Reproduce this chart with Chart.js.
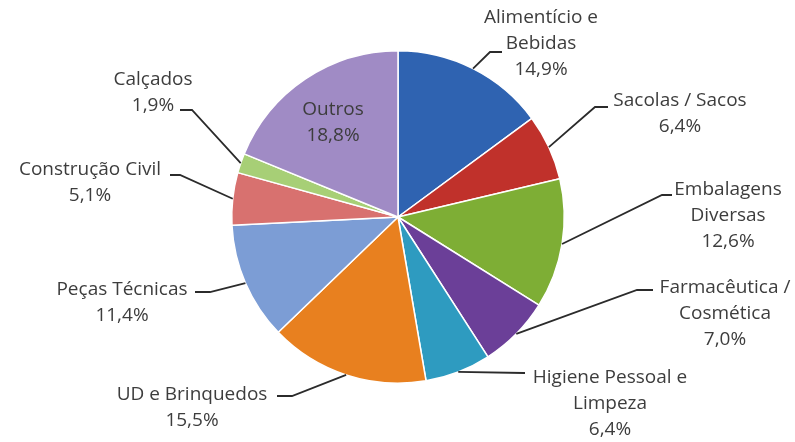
<!DOCTYPE html>
<html>
<head>
<meta charset="utf-8">
<script src="https://cdn.jsdelivr.net/npm/chart.js@4"></script>
<style>
  html, body { margin: 0; padding: 0; background: #fff; }
  #wrap { width: 795px; height: 442px; }
</style>
</head>
<body>
<div id="wrap"><canvas id="pie" width="795" height="442"></canvas></div>
<script>
// --- Dados ---
const categories = [
  ['Alimentício e', 'Bebidas'],
  ['Sacolas / Sacos'],
  ['Embalagens', 'Diversas'],
  ['Farmacêutica /', 'Cosmética'],
  ['Higiene Pessoal e', 'Limpeza'],
  ['UD e Brinquedos'],
  ['Peças Técnicas'],
  ['Construção Civil'],
  ['Calçados'],
  ['Outros']
];
const shares = [14.9, 6.4, 12.6, 7.0, 6.4, 15.5, 11.4, 5.1, 1.9, 18.8];
const colors = ['#2f63b1', '#c0312b', '#7eae35', '#6b3f98', '#2e9bc0',
                '#e8801f', '#7c9dd5', '#d8716f', '#a7cf76', '#a08bc5'];

// posição dos rótulos: centro do texto, y da 1a linha, cotovelo e fim da linha guia
const labelPos = [
  { x: 541, y: 18,  elbow: [490, 52],  end: [502, 52] },
  { x: 680, y: 101, elbow: [595, 107], end: [608, 107] },
  { x: 728, y: 190, elbow: [662, 195], end: [672, 195] },
  { x: 725, y: 288, elbow: [637, 290], end: [653, 290] },
  { x: 610, y: 378, elbow: [524, 373], end: [525, 373] },
  { x: 192, y: 395, elbow: [292, 396], end: [277, 396] },
  { x: 122, y: 290, elbow: [210, 292], end: [195, 292] },
  { x: 90,  y: 170, elbow: [180, 175], end: [170, 175] },
  { x: 153, y: 80,  elbow: [192, 110], end: [180, 110] },
  { x: 333, y: 110, inside: true }
];
const lineGap = 26;

const fmt = v => v.toFixed(1).replace('.', ',') + '%';

// --- Rótulos com linhas guia ---
const outsideLabels = {
  id: 'outsideLabels',
  afterDatasetsDraw(chart) {
    const ctx = chart.ctx;
    const arcs = chart.getDatasetMeta(0).data;
    ctx.save();
    ctx.font = '19px "Open Sans"';
    ctx.textAlign = 'center';
    ctx.textBaseline = 'middle';
    arcs.forEach((arc, i) => {
      const p = labelPos[i];
      if (!p.inside) {
        const mid = (arc.startAngle + arc.endAngle) / 2;
        const sx = arc.x + Math.cos(mid) * arc.outerRadius;
        const sy = arc.y + Math.sin(mid) * arc.outerRadius;
        ctx.strokeStyle = '#2b2b2b';
        ctx.lineWidth = 1.8;
        ctx.beginPath();
        ctx.moveTo(sx, sy);
        ctx.lineTo(p.elbow[0], p.elbow[1]);
        ctx.lineTo(p.end[0], p.end[1]);
        ctx.stroke();
      }
      const lines = categories[i].concat([fmt(shares[i])]);
      ctx.fillStyle = '#3d3d3d';
      lines.forEach((t, k) => ctx.fillText(t, p.x, p.y + k * lineGap));
    });
    ctx.restore();
  }
};

new Chart(document.getElementById('pie'), {
  type: 'pie',
  data: {
    labels: categories,
    datasets: [{
      data: shares,
      backgroundColor: colors,
      borderColor: '#ffffff',
      borderWidth: 1.5
    }]
  },
  options: {
    responsive: false,
    animation: false,
    layout: { padding: { left: 231, right: 230, top: 50, bottom: 58 } },
    plugins: { legend: { display: false }, tooltip: { enabled: false } }
  },
  plugins: [outsideLabels]
});
</script>
</body>
</html>
